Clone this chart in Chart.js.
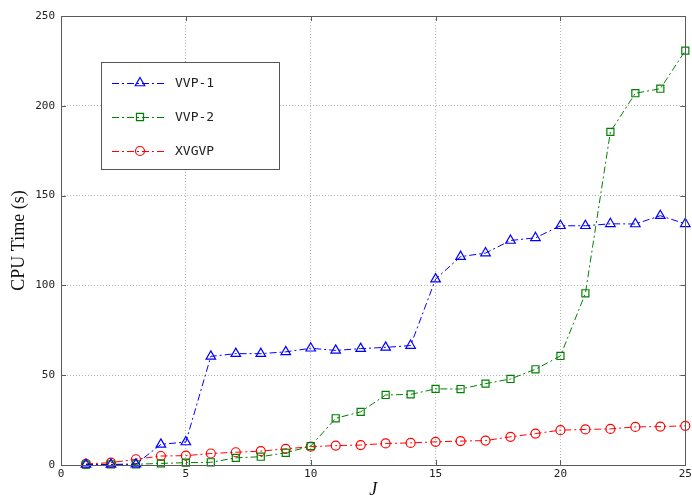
<!DOCTYPE html>
<html>
<head>
<meta charset="utf-8">
<script src="https://cdn.jsdelivr.net/npm/chart.js@4/dist/chart.umd.min.js"></script>
<style>
html,body{margin:0;padding:0;background:#fff;}
#wrap{width:692px;height:497px;}
</style>
</head>
<body>
<div id="wrap"><canvas id="c" width="692" height="497"></canvas></div>
<script>
// ---- data ----
const J = [1,2,3,4,5,6,7,8,9,10,11,12,13,14,15,16,17,18,19,20,21,22,23,24,25];
const vvp1 = [0.3,0.3,0.5,11.5,12.8,60.5,62,62,63,65,63.8,64.8,65.5,66.5,103.5,116,118,125,126.5,133.2,133.2,134.3,134.2,138.8,134.3];
const vvp2 = [0.2,0.3,0.4,0.9,1.3,1.5,4,4.6,6.8,10.5,26,29.6,39,39.3,42.4,42.3,45.3,47.9,53.3,60.7,95.6,185.5,207,209.5,230.7];
const xvgvp = [0.6,1.3,3.2,5,5.2,6.4,7.1,7.7,9,10.2,10.8,11.1,12,12.3,12.9,13.3,13.6,15.7,17.5,19.4,19.8,20.1,21.2,21.4,21.8];
const seriesNames = ['VVP-1','VVP-2','XVGVP'];
const xTicks = [0,5,10,15,20,25];
const yTicks = [0,50,100,150,200,250];

const pts = arr => J.map((x,i)=>({x:x,y:arr[i]}));
const DASH = [7,3,2,3];
const tickFont = {family:'DejaVu Sans Mono', size:11};

function mkDs(label, data, color, style, radius){
  return {label, data:pts(data), borderColor:color, backgroundColor:'rgba(0,0,0,0)',
    borderWidth:1, borderDash:DASH, pointStyle:style, pointRadius:radius,
    pointBorderColor:color, pointBackgroundColor:'rgba(0,0,0,0)', pointBorderWidth:1.2,
    pointHoverRadius:radius, tension:0, clip:false};
}

const framePlugin = {
  id:'frame',
  afterDatasetsDraw(chart){
    const ctx = chart.ctx, a = chart.chartArea;
    const xs = chart.scales.x, ys = chart.scales.y;
    ctx.save();
    ctx.strokeStyle = '#5a5a5a';
    ctx.lineWidth = 1;
    ctx.setLineDash([]);
    ctx.strokeRect(Math.round(a.left)+0.5, Math.round(a.top)+0.5, Math.round(a.right-a.left), Math.round(a.bottom-a.top));
    // inward ticks
    const L = 5;
    ctx.beginPath();
    xTicks.forEach(v=>{
      const px = Math.round(xs.getPixelForValue(v))+0.5;
      ctx.moveTo(px, a.bottom); ctx.lineTo(px, a.bottom-L);
      ctx.moveTo(px, a.top); ctx.lineTo(px, a.top+L);
    });
    yTicks.forEach(v=>{
      const py = Math.round(ys.getPixelForValue(v))+0.5;
      ctx.moveTo(a.left, py); ctx.lineTo(a.left+L, py);
      ctx.moveTo(a.right, py); ctx.lineTo(a.right-L, py);
    });
    ctx.stroke();

    // legend box
    const bx = 101.5, by = 62.5, bw = 178, bh = 107;
    ctx.fillStyle = '#fff';
    ctx.fillRect(bx, by, bw, bh);
    ctx.strokeStyle = '#555';
    ctx.strokeRect(bx, by, bw, bh);
    const rowsY = [83, 117, 151];
    chart.data.datasets.forEach((ds,i)=>{
      const y = rowsY[i];
      ctx.strokeStyle = ds.borderColor;
      ctx.lineWidth = 1;
      ctx.setLineDash(DASH);
      ctx.beginPath();
      ctx.moveTo(112, y+0.5); ctx.lineTo(166, y+0.5);
      ctx.stroke();
      ctx.setLineDash([]);
      ctx.lineWidth = 1.2;
      ctx.fillStyle = 'rgba(0,0,0,0)';
      Chart.helpers.drawPoint(ctx, {pointStyle: ds.pointStyle, radius: ds.pointRadius, rotation:0, borderWidth:1.2}, 140, y);
      ctx.fillStyle = '#222';
      ctx.font = '13px "DejaVu Sans Mono"';
      ctx.textBaseline = 'middle';
      ctx.textAlign = 'left';
      ctx.fillText(seriesNames[i], 175, y+1);
    });
    ctx.restore();
  }
};

new Chart(document.getElementById('c'), {
  type:'line',
  data:{datasets:[
    mkDs(seriesNames[0], vvp1, '#0000ff', 'triangle', 5.5),
    mkDs(seriesNames[1], vvp2, '#008000', 'rect', 5),
    mkDs(seriesNames[2], xvgvp, '#ff0000', 'circle', 4.5)
  ]},
  options:{
    responsive:false, animation:false, devicePixelRatio:1,
    layout:{padding:{top:16,right:6,left:0,bottom:0}},
    plugins:{legend:{display:false}, tooltip:{enabled:false}},
    scales:{
      x:{type:'linear', min:0, max:25,
        afterBuildTicks(s){ s.ticks = xTicks.map(v=>({value:v})); },
        afterFit(s){ s.height = 32; s.paddingLeft = 0; s.paddingRight = 0; },
        ticks:{font:tickFont, color:'#222', padding:3, maxRotation:0},
        grid:{color:'#b4b4b4', lineWidth:1, drawTicks:false},
        border:{display:false, dash:[1,2]},
        title:{display:true, text:'J', font:{family:'Liberation Serif', size:18, style:'italic'}, color:'#111', padding:{top:0,bottom:-4}}
      },
      y:{type:'linear', min:0, max:250,
        afterBuildTicks(s){ s.ticks = yTicks.map(v=>({value:v})); },
        afterFit(s){ s.width = 61; s.paddingTop = 0; s.paddingBottom = 0; },
        ticks:{font:tickFont, color:'#222', padding:6},
        grid:{color:'#b4b4b4', lineWidth:1, drawTicks:false},
        border:{display:false, dash:[1,2]},
        title:{display:true, text:'CPU Time (s)', font:{family:'Liberation Serif', size:18}, color:'#111', padding:{top:8,bottom:0}}
      }
    }
  },
  plugins:[framePlugin]
});
</script>
</body>
</html>
